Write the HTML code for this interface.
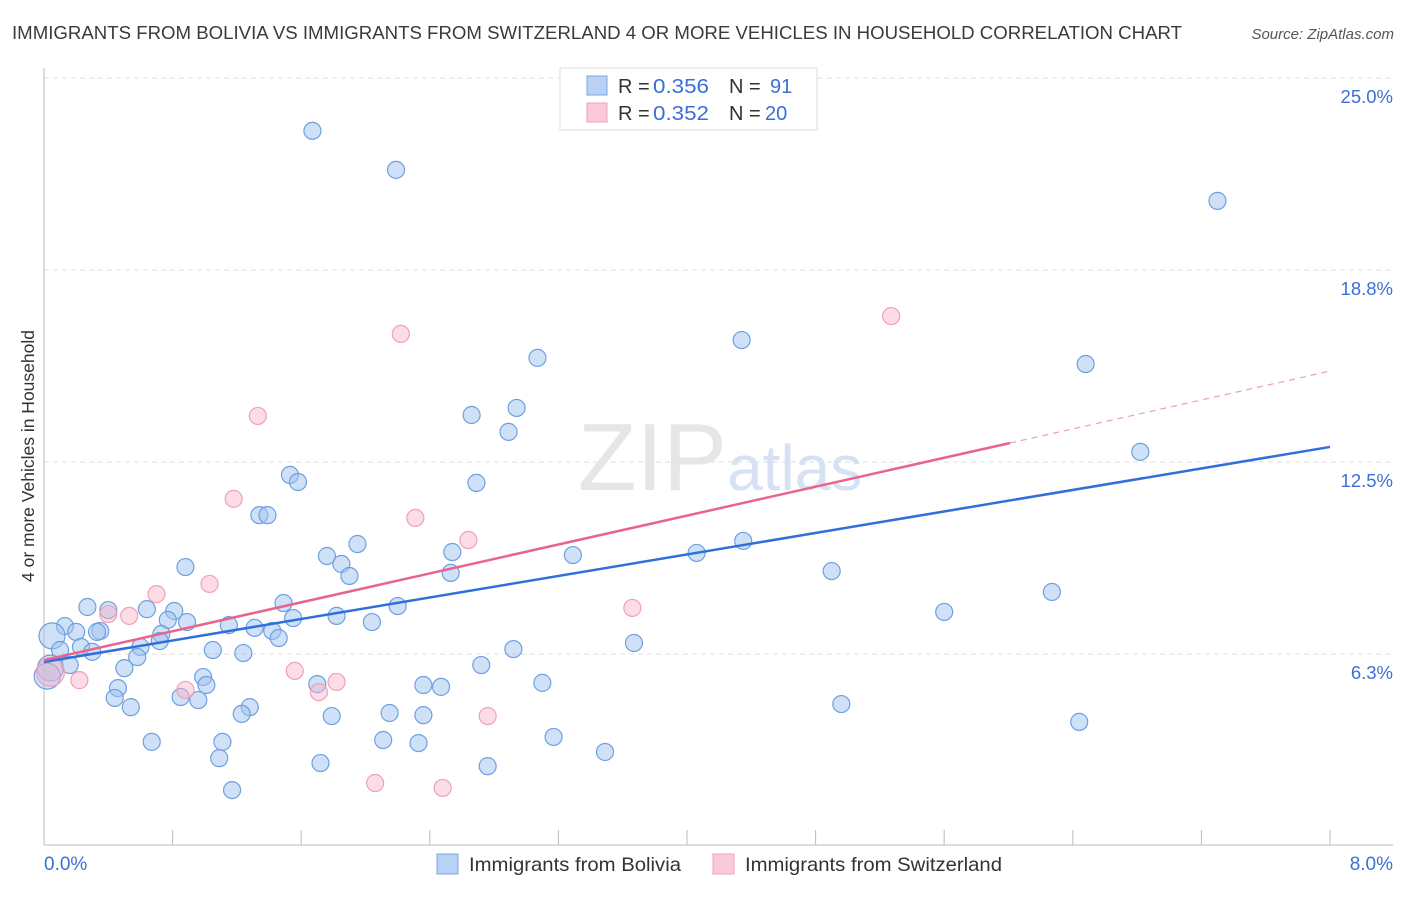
<!DOCTYPE html>
<html><head><meta charset="utf-8"><style>
body{margin:0;background:#fff;font-family:"Liberation Sans",sans-serif;}
svg text{font-family:"Liberation Sans",sans-serif;}
</style></head><body>
<svg id="chart" width="1406" height="892" viewBox="0 0 1406 892" xmlns="http://www.w3.org/2000/svg">
<text x="12" y="39" font-size="18" fill="#3a3a3a" textLength="1170" lengthAdjust="spacingAndGlyphs">IMMIGRANTS FROM BOLIVIA VS IMMIGRANTS FROM SWITZERLAND 4 OR MORE VEHICLES IN HOUSEHOLD CORRELATION CHART</text>
<text x="1394" y="39" font-size="15" fill="#555" text-anchor="end" font-style="italic">Source: ZipAtlas.com</text>
<g id="grid"></g>
<text x="720" y="490" font-size="96" fill="#e6e6e6" text-anchor="middle" font-family="Liberation Serif"><tspan>ZIP</tspan><tspan font-family="Liberation Sans" font-size="64" fill="#d6e2f4">atlas</tspan></text>
<line x1="44" y1="68" x2="44" y2="845" stroke="#bbb" stroke-width="1"/>
<line x1="44" y1="845" x2="1393" y2="845" stroke="#bbb" stroke-width="1"/>
<g id="ticks"></g>
<g id="points"></g>
<g id="trends"></g>
<text transform="translate(34,456) rotate(-90)" font-size="17.5" fill="#333" text-anchor="middle">4 or more Vehicles in Household</text>
<text x="44" y="870" font-size="19" fill="#3a6fd8">0.0%</text>
<text x="1393" y="870" font-size="19" fill="#3a6fd8" text-anchor="end">8.0%</text>
<g>
<rect x="560" y="68" width="257" height="62" fill="#fff" stroke="#ddd"/>
<rect x="587" y="76" width="20" height="19" fill="#b8d1f5" stroke="#7aa6e6"/>
<rect x="587" y="103" width="20" height="19" fill="#fbcad8" stroke="#f0a0b8"/>
<text x="618" y="93" font-size="20" fill="#333">R = <tspan x="653" fill="#3a6fd8" textLength="56" lengthAdjust="spacingAndGlyphs">0.356</tspan><tspan x="729">N = </tspan><tspan x="770" fill="#3a6fd8">91</tspan></text>
<text x="618" y="120" font-size="20" fill="#333">R = <tspan x="653" fill="#3a6fd8" textLength="56" lengthAdjust="spacingAndGlyphs">0.352</tspan><tspan x="729">N = </tspan><tspan x="765" fill="#3a6fd8">20</tspan></text>
</g>
<g>
<rect x="437" y="854" width="21" height="20" fill="#b8d1f5" stroke="#7aa6e6"/>
<text x="469" y="871" font-size="19.5" fill="#333" textLength="212" lengthAdjust="spacingAndGlyphs">Immigrants from Bolivia</text></g>
<g>
<rect x="713" y="854" width="21" height="20" fill="#fbcad8" stroke="#f0a0b8"/>
<text x="745" y="871" font-size="19.5" fill="#333" textLength="257" lengthAdjust="spacingAndGlyphs">Immigrants from Switzerland</text></g>
</svg>
<script>
const yTicks=[6.25,12.5,18.75,25];
const yTickLabels=["6.3%","12.5%","18.8%","25.0%"];
const blueX=[1.67,2.19,7.30,4.34,3.07,6.48,2.94,2.66,2.89,6.82,1.53,1.58,2.69,1.34,1.39,1.95,1.76,1.85,2.54,3.29,4.06,4.35,0.88,1.90,2.53,4.90,6.27,0.27,0.40,0.64,0.81,1.49,2.20,5.60,0.13,0.20,0.35,0.33,0.77,0.89,1.15,1.31,1.42,1.55,1.82,2.04,0.05,0.73,0.72,0.60,0.23,0.10,0.30,1.46,1.05,1.24,2.92,3.67,0.58,0.50,0.16,0.04,0.02,2.72,0.99,1.01,1.70,2.36,2.47,3.10,0.46,0.44,0.85,0.96,0.54,1.28,1.23,1.79,2.15,2.36,4.96,6.44,0.67,1.11,2.11,2.33,3.17,3.49,1.09,1.72,2.76,1.17];
const blueY=[23.28,22.01,21.00,16.47,15.89,15.69,14.26,14.03,13.48,12.83,12.08,11.85,11.82,10.77,10.77,9.83,9.44,9.18,9.57,9.47,9.54,9.93,9.08,8.79,8.89,8.95,8.27,7.78,7.68,7.71,7.65,7.91,7.81,7.62,7.16,6.97,7.00,6.97,7.36,7.29,7.19,7.10,7.00,7.42,7.49,7.29,6.84,6.90,6.67,6.48,6.48,6.38,6.32,6.77,6.38,6.28,6.41,6.61,6.15,5.79,5.89,5.79,5.53,5.89,5.50,5.24,5.27,5.24,5.18,5.31,5.14,4.82,4.85,4.75,4.52,4.52,4.30,4.23,4.33,4.26,4.62,4.04,3.39,3.39,3.45,3.35,3.55,3.06,2.86,2.70,2.60,1.82];
const pinkX=[2.22,5.27,1.33,1.18,2.31,2.64,1.03,0.70,0.40,0.53,3.66,1.56,1.82,0.22,0.88,1.71,2.76,2.06,2.48,0.04];
const pinkY=[16.67,17.25,14.00,11.30,10.68,9.96,8.53,8.20,7.55,7.49,7.75,5.70,5.34,5.40,5.08,5.01,4.23,2.05,1.89,5.66];
const blueTrend=[5.99,12.99];
const pinkTrend=[6.05,15.46];
const pinkSolidEnd=6.01;
const xMax=8;

const NS="http://www.w3.org/2000/svg";
const X=v=>44+v/xMax*1286;
const Y=v=>846-v/6.25*192;
function mk(tag,attrs,parent){const e=document.createElementNS(NS,tag);for(const k in attrs)e.setAttribute(k,attrs[k]);document.getElementById(parent).appendChild(e);return e;}
yTicks.forEach((t,i)=>{
  const l=mk('line',{x1:44,x2:1393,y1:Y(t),y2:Y(t),stroke:'#ddd','stroke-dasharray':'5,4'},'grid');
  
  
  const tx=mk('text',{x:1393,y:Y(t)+25,'font-size':18.5,fill:'#3a6fd8','text-anchor':'end'},'grid');
  tx.textContent=yTickLabels[i];
  
  
});
for(let k=0;k<=10;k++){
  const x=X(k*xMax/10);
  const l=mk('line',{x1:x,x2:x,y1:830,y2:845,stroke:'#bbb'},'ticks');
  
  
}
const big=i=>(blueX[i]<0.06);
blueX.forEach((v,i)=>{
  const c=mk('circle',{cx:X(v),cy:Y(blueY[i]),r:big(i)?13:8.5,fill:'rgba(160,195,240,0.5)',stroke:'#6f9fe2','stroke-width':1.2},'points');
  
  
});
pinkX.forEach((v,i)=>{
  const c=mk('circle',{cx:X(v),cy:Y(pinkY[i]),r:v<0.06?14:8.5,fill:'rgba(248,180,200,0.45)',stroke:'#f0a0b8','stroke-width':1.2},'points');
  
  
});
const bl=mk('line',{x1:X(0),y1:Y(blueTrend[0]),x2:X(xMax),y2:Y(blueTrend[1]),stroke:'#2f6fdc','stroke-width':2.5},'trends');


const pAt=v=>pinkTrend[0]+(pinkTrend[1]-pinkTrend[0])*v/xMax;
const pl=mk('line',{x1:X(0),y1:Y(pinkTrend[0]),x2:X(pinkSolidEnd),y2:Y(pAt(pinkSolidEnd)),stroke:'#e8648f','stroke-width':2.5},'trends');


const pd=mk('line',{x1:X(pinkSolidEnd),y1:Y(pAt(pinkSolidEnd)),x2:X(xMax),y2:Y(pinkTrend[1]),stroke:'#e8a0b8','stroke-width':1.2,'stroke-dasharray':'6,5'},'trends');


</script>
</body></html>
